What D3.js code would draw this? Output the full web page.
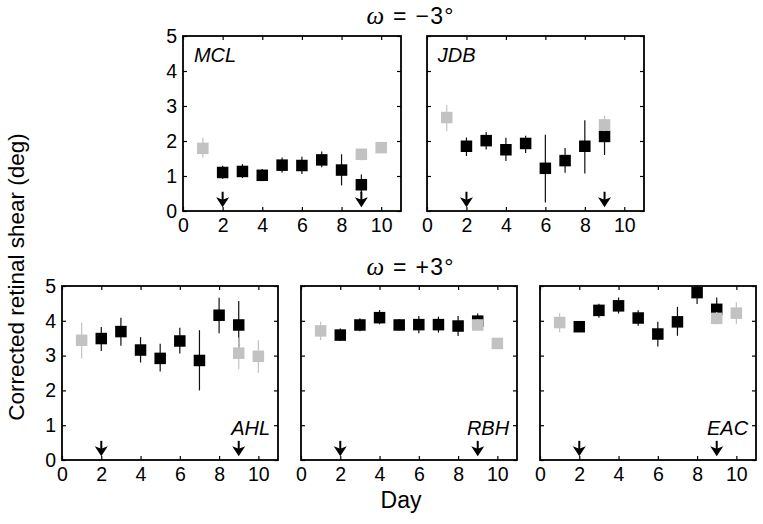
<!DOCTYPE html>
<html><head><meta charset="utf-8">
<script src="https://cdn.jsdelivr.net/npm/d3@7"></script>
<style>html,body{margin:0;padding:0;background:#fff;} svg{display:block;font-family:"Liberation Sans",Arial,Helvetica,sans-serif;}</style>
</head><body>
<svg id="chart" width="763" height="524"></svg>
<script>
// ---------- data ----------
const xTicks = [0, 2, 4, 6, 8, 10];
const yTicks = [0, 1, 2, 3, 4, 5];
const arrowDays = [2, 9];
const adaptDays = [2, 3, 4, 5, 6, 7, 8, 9];
const subjects = ["MCL", "JDB", "AHL", "RBH", "EAC"];
const conditionTitles = ["\u2212", "+"]; // omega = -3 deg (top), +3 deg (bottom)

const MCL_adapt   = [1.10, 1.13, 1.02, 1.31, 1.30, 1.46, 1.17, 0.75];
const MCL_adaptLo = [0.92, 0.94, 0.87, 1.10, 1.06, 1.25, 0.73, 0.49];
const MCL_adaptHi = [1.29, 1.34, 1.20, 1.53, 1.55, 1.70, 1.62, 1.04];
const MCL_baseDays = [1, 9, 10];
const MCL_base   = [1.79, 1.62, 1.81];
const MCL_baseLo = [1.53, 1.45, 1.68];
const MCL_baseHi = [2.09, 1.76, 1.95];

const JDB_adapt   = [1.85, 2.01, 1.75, 1.93, 1.22, 1.44, 1.85, 2.13];
const JDB_adaptLo = [1.57, 1.76, 1.43, 1.66, 0.24, 1.09, 1.07, 1.60];
const JDB_adaptHi = [2.10, 2.26, 2.09, 2.15, 2.18, 1.80, 2.59, 2.47];
const JDB_baseDays = [1, 9];
const JDB_base   = [2.67, 2.46];
const JDB_baseLo = [2.28, 2.28];
const JDB_baseHi = [3.03, 2.72];

const AHL_adapt   = [3.49, 3.69, 3.16, 2.92, 3.42, 2.86, 4.16, 3.88];
const AHL_adaptLo = [3.13, 3.28, 2.80, 2.54, 3.06, 2.00, 3.64, 3.04];
const AHL_adaptHi = [3.82, 4.09, 3.53, 3.34, 3.80, 3.73, 4.66, 4.57];
const AHL_baseDays = [1, 9, 10];
const AHL_base   = [3.44, 3.07, 2.98];
const AHL_baseLo = [2.92, 2.61, 2.51];
const AHL_baseHi = [3.95, 3.52, 3.44];

const RBH_adapt   = [3.59, 3.88, 4.09, 3.88, 3.89, 3.89, 3.85, 3.99];
const RBH_adaptLo = [3.42, 3.70, 3.90, 3.73, 3.64, 3.66, 3.56, 3.83];
const RBH_adaptHi = [3.78, 4.07, 4.31, 4.05, 4.14, 4.12, 4.14, 4.21];
const RBH_baseDays = [1, 9, 10];
const RBH_base   = [3.71, 3.88, 3.35];
const RBH_baseLo = [3.44, 3.73, 3.25];
const RBH_baseHi = [3.97, 4.05, 3.45];

const EAC_adapt   = [3.83, 4.30, 4.43, 4.08, 3.62, 3.97, 4.81, 4.33];
const EAC_adaptLo = [3.70, 4.09, 4.21, 3.86, 3.26, 3.57, 4.48, 4.00];
const EAC_adaptHi = [3.98, 4.49, 4.67, 4.30, 3.97, 4.40, 5.00, 4.67];
const EAC_baseDays = [1, 9, 10];
const EAC_base   = [3.95, 4.07, 4.22];
const EAC_baseLo = [3.67, 3.90, 3.90];
const EAC_baseHi = [4.22, 4.25, 4.53];

// ---------- layout ----------
const layout = {
  MCL: {x: 183, y: 36,  w: 218, h: 175, yLabels: true,  name: "tl"},
  JDB: {x: 427, y: 36,  w: 217, h: 175, yLabels: false, name: "tl"},
  AHL: {x: 62,  y: 286, w: 216, h: 174, yLabels: true,  name: "br"},
  RBH: {x: 301, y: 286, w: 216, h: 174, yLabels: false, name: "br"},
  EAC: {x: 540, y: 286, w: 216, h: 174, yLabels: false, name: "br"}
};
const series = {
  MCL: {a: MCL_adapt, aLo: MCL_adaptLo, aHi: MCL_adaptHi, bd: MCL_baseDays, b: MCL_base, bLo: MCL_baseLo, bHi: MCL_baseHi},
  JDB: {a: JDB_adapt, aLo: JDB_adaptLo, aHi: JDB_adaptHi, bd: JDB_baseDays, b: JDB_base, bLo: JDB_baseLo, bHi: JDB_baseHi},
  AHL: {a: AHL_adapt, aLo: AHL_adaptLo, aHi: AHL_adaptHi, bd: AHL_baseDays, b: AHL_base, bLo: AHL_baseLo, bHi: AHL_baseHi},
  RBH: {a: RBH_adapt, aLo: RBH_adaptLo, aHi: RBH_adaptHi, bd: RBH_baseDays, b: RBH_base, bLo: RBH_baseLo, bHi: RBH_baseHi},
  EAC: {a: EAC_adapt, aLo: EAC_adaptLo, aHi: EAC_adaptHi, bd: EAC_baseDays, b: EAC_base, bLo: EAC_baseLo, bHi: EAC_baseHi}
};

const GREY = "#c2c2c2";
const SQ = 11.5;
const svg = d3.select("#chart");

subjects.forEach(name => {
  const L = layout[name], S = series[name];
  const g = svg.append("g").attr("transform", `translate(${L.x},${L.y})`);
  const x = d3.scaleLinear().domain([0, 11]).range([0, L.w]);
  const y = d3.scaleLinear().domain([0, 5]).range([L.h, 0]);

  const styleAxis = sel => {
    sel.select(".domain").remove();
    sel.selectAll(".tick line").attr("stroke", "#000").attr("stroke-width", 1.2);
    sel.selectAll(".tick text").attr("font-size", 19.5).attr("fill", "#000")
      .attr("font-family", '"Liberation Sans",Arial,sans-serif');
  };
  g.append("g").attr("transform", `translate(0,${L.h})`)
    .call(d3.axisBottom(x).tickValues(xTicks).tickSizeInner(-4).tickSizeOuter(0).tickPadding(7).tickFormat(d3.format("d")))
    .call(styleAxis);
  g.append("g")
    .call(d3.axisTop(x).tickValues(xTicks).tickSizeInner(-4).tickSizeOuter(0).tickFormat(""))
    .call(styleAxis);
  g.append("g")
    .call(d3.axisLeft(y).tickValues(yTicks).tickSizeInner(-4).tickSizeOuter(0).tickPadding(6)
      .tickFormat(L.yLabels ? d3.format("d") : ""))
    .call(styleAxis);
  g.append("g").attr("transform", `translate(${L.w},0)`)
    .call(d3.axisRight(y).tickValues(yTicks).tickSizeInner(-4).tickSizeOuter(0).tickFormat(""))
    .call(styleAxis);

  g.append("rect").attr("x", 0).attr("y", 0).attr("width", L.w).attr("height", L.h)
    .attr("fill", "none").attr("stroke", "#000").attr("stroke-width", 1.8);

  const adapt = adaptDays.map((d, i) => ({d, v: S.a[i], lo: S.aLo[i], hi: S.aHi[i]}));
  const base = S.bd.map((d, i) => ({d, v: S.b[i], lo: S.bLo[i], hi: S.bHi[i]}));

  // adaptation (black)
  g.selectAll(".ebA").data(adapt).enter().append("line")
    .attr("x1", p => x(p.d)).attr("x2", p => x(p.d))
    .attr("y1", p => y(p.lo)).attr("y2", p => y(p.hi))
    .attr("stroke", "#111").attr("stroke-width", 1.2);
  g.selectAll(".sqA").data(adapt).enter().append("rect")
    .attr("x", p => x(p.d) - SQ / 2).attr("y", p => y(p.v) - SQ / 2)
    .attr("width", SQ).attr("height", SQ).attr("fill", "#000");

  // baseline (grey)
  g.selectAll(".ebB").data(base).enter().append("line")
    .attr("x1", p => x(p.d)).attr("x2", p => x(p.d))
    .attr("y1", p => y(p.lo)).attr("y2", p => y(p.hi))
    .attr("stroke", GREY).attr("stroke-width", 1.2);
  g.selectAll(".sqB").data(base).enter().append("rect")
    .attr("x", p => x(p.d) - SQ / 2).attr("y", p => y(p.v) - SQ / 2)
    .attr("width", SQ).attr("height", SQ).attr("fill", GREY);

  // arrows
  arrowDays.forEach(d => {
    const cx = x(d), top = y(0.55), tip = y(0.11);
    g.append("line").attr("x1", cx).attr("x2", cx).attr("y1", top).attr("y2", tip - 5)
      .attr("stroke", "#000").attr("stroke-width", 2);
    g.append("path")
      .attr("d", `M${cx},${tip} L${cx - 6.5},${tip - 10} L${cx},${tip - 7.5} L${cx + 6.5},${tip - 10} Z`)
      .attr("fill", "#000");
  });

  // subject label
  const lab = g.append("text").text(name).attr("font-size", 20).attr("font-style", "italic")
    .attr("fill", "#000");
  if (L.name === "tl") lab.attr("x", x(0.55)).attr("y", 26);
  else lab.attr("x", x(10.6)).attr("y", y(0.72)).attr("text-anchor", "end");
});

// condition titles
[[24, conditionTitles[0]], [275, conditionTitles[1]]].forEach(([ty, sign]) => {
  const t = svg.append("text").attr("x", 410).attr("y", ty).attr("text-anchor", "middle")
    .attr("font-size", 23).attr("fill", "#000")
    .attr("textLength", 87).attr("lengthAdjust", "spacing");
  t.append("tspan").text("\u03C9").attr("font-family", '"Liberation Serif","Times New Roman",serif')
    .attr("font-style", "italic").attr("font-size", 25);
  t.append("tspan").text(" = " + sign + "3\u00B0");
});

// axis titles
svg.append("text").attr("transform", "translate(24,277) rotate(-90)")
  .attr("text-anchor", "middle").attr("font-size", 22.5).attr("fill", "#000")
  .text("Corrected retinal shear (deg)");
svg.append("text").attr("x", 401).attr("y", 508).attr("text-anchor", "middle")
  .attr("font-size", 23).attr("fill", "#000").text("Day");
</script></body></html>
